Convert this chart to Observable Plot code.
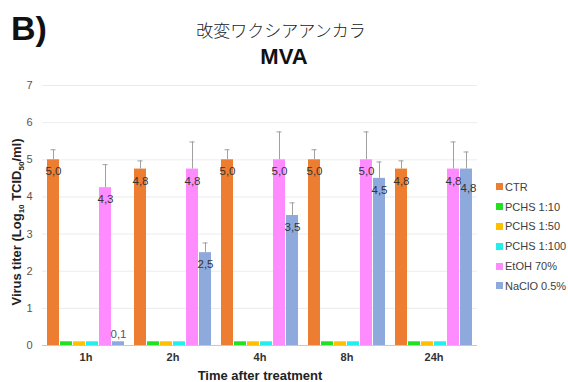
<!DOCTYPE html>
<html><head><meta charset="utf-8">
<script src="https://cdn.jsdelivr.net/npm/d3@7"></script>
<script src="https://cdn.jsdelivr.net/npm/@observablehq/plot@0.6"></script>
<style>
body{margin:0;background:#fff;font-family:"Liberation Sans",Arial,sans-serif;}
#wrap{position:relative;width:568px;height:382px;overflow:hidden;background:#fff}
#hdr{height:70px;position:relative}
#tag{position:absolute;left:11px;top:11px;font-size:34px;font-weight:bold;line-height:1;color:#111}
#jp{position:absolute;left:-3px;width:568px;top:21px;text-align:center;font-family:"Noto Sans CJK JP",sans-serif;font-weight:300;font-size:17px;line-height:1;color:#222}
#mva{position:absolute;left:0;width:568px;top:46px;text-align:center;font-size:22px;font-weight:bold;line-height:1;color:#111}
#legend{position:absolute;left:496px;top:177px;font-size:11px;color:#404040}
.row{height:19.8px;display:flex;align-items:center;white-space:nowrap}
.sw{width:7px;height:7px;margin-right:2px;flex:none}
</style></head><body>
<div id="wrap">
  <div id="hdr">
    <div id="tag">B)</div>
    <div id="jp">改変ワクシアアンカラ</div>
    <div id="mva">MVA</div>
  </div>
  <div id="chart"></div>
  <div id="legend"></div>
</div>
<script>
const times = ["1h", "2h", "4h", "8h", "24h"];
const series = ["CTR", "PCHS 1:10", "PCHS 1:50", "PCHS 1:100", "EtOH 70%", "NaClO 0.5%"];
const colors = ["#ED7D31", "#22E022", "#FFC000", "#22EEEE", "#FF8CFF", "#8EA9DB"];
const yTicks = [0, 1, 2, 3, 4, 5, 6, 7];

const ctr     = [5.0, 4.75, 5.0, 5.0, 4.75];
const pchs10  = [0.1, 0.1, 0.1, 0.1, 0.1];
const pchs50  = [0.1, 0.1, 0.1, 0.1, 0.1];
const pchs100 = [0.1, 0.1, 0.1, 0.1, 0.1];
const etoh    = [4.25, 4.75, 5.0, 5.0, 4.75];
const naclo   = [0.1, 2.5, 3.5, 4.5, 4.75];

const ctrErr   = [0.27, 0.22, 0.27, 0.27, 0.22];
const etohErr  = [0.62, 0.73, 0.75, 0.75, 0.73];
const nacloErr = [0, 0.26, 0.34, 0.44, 0.46];

const labeledSeries = ["CTR", "EtOH 70%", "NaClO 0.5%"];

const valuesBySeries = [ctr, pchs10, pchs50, pchs100, etoh, naclo];
const errBySeries = [ctrErr, null, null, null, etohErr, nacloErr];

const fmtV = v => v.toFixed(1).replace(".", ",");
const rows = [];
times.forEach((t, i) => {
  series.forEach((s, j) => {
    rows.push({time: t, series: s, value: valuesBySeries[j][i], err: errBySeries[j] ? errBySeries[j][i] : 0});
  });
});
const errRows = rows.filter(d => d.err > 0);
// labels; a label that would collide with its left neighbour's label (same rounded value, adjacent bar) is pushed down
const labelRows = rows.filter(d => labeledSeries.includes(d.series)).map(d => {
  const j = series.indexOf(d.series);
  const left = j > 0 ? rows.find(r => r.time === d.time && r.series === series[j - 1]) : null;
  const clash = left && labeledSeries.includes(left.series) && fmtV(left.value) === fmtV(d.value);
  return {...d, clash};
});
const fmt = d => fmtV(d.value);

const plot = Plot.plot({
  width: 568,
  height: 312,
  marginLeft: 40,
  marginRight: 90,
  marginTop: 15,
  marginBottom: 37,
  style: {fontFamily: "Liberation Sans, Arial, sans-serif", fontSize: "11px", color: "#404040", background: "#fff"},
  fx: {domain: times, padding: 0, label: "Time after treatment", axis: "bottom", tickSize: 0, tickPadding: 8},
  x: {domain: series, axis: null, paddingInner: 0.09, paddingOuter: 0.35},
  y: {domain: [0, 7], ticks: yTicks, tickFormat: d => String(d), grid: true, tickSize: 0, tickPadding: 10, label: null},
  color: {domain: series, range: colors},
  marks: [
    Plot.ruleY([0], {stroke: "#c8c8c8", strokeWidth: 1}),
    Plot.barY(rows, {fx: "time", x: "series", y: "value", fill: "series"}),
    Plot.ruleX(errRows, {fx: "time", x: "series", y1: "value", y2: d => d.value + d.err, stroke: "#a0a0a0", strokeWidth: 1}),
    Plot.tickY(errRows, {fx: "time", x: "series", y: d => d.value + d.err, stroke: "#a0a0a0", strokeWidth: 1, insetLeft: 3.5, insetRight: 3.5}),
    Plot.text(labelRows.filter(d => d.value >= 1 && !d.clash), {fx: "time", x: "series", y: "value", text: fmt, dy: 12, fill: "#333", fontSize: 11.5}),
    Plot.text(labelRows.filter(d => d.value >= 1 && d.clash), {fx: "time", x: "series", y: "value", text: fmt, dy: 19, dx: 2, fill: "#333", fontSize: 11.5}),
    Plot.text(labelRows.filter(d => d.value < 1), {fx: "time", x: "series", y: "value", text: fmt, dy: -7, fill: "#555", fontSize: 11.5})
  ]
});
document.getElementById("chart").appendChild(plot);

// styling of axes
const svg = d3.select(plot);
svg.selectAll('g[aria-label="fx-axis tick label"]').attr("font-weight", "bold").attr("fill", "#333");
svg.selectAll('g[aria-label="fx-axis label"]').attr("font-weight", "bold").attr("font-size", 13).attr("fill", "#222");
svg.selectAll('g[aria-label="y-grid"]').attr("stroke", "#e6e6e6").attr("stroke-opacity", 1);
svg.selectAll('g[aria-label="y-axis tick label"]').attr("fill", "#555");

// y-axis title with subscripts
const yl = svg.append("text")
  .attr("transform", "translate(16,152) rotate(-90)")
  .attr("text-anchor", "middle")
  .attr("dy", "0.35em")
  .attr("font-family", "Liberation Sans, Arial, sans-serif")
  .attr("font-weight", "bold")
  .attr("font-size", 13)
  .attr("fill", "#222");
yl.append("tspan").text("Virus titer (Log");
yl.append("tspan").text("10").attr("font-size", 8).attr("dy", "3");
yl.append("tspan").text(" TCID").attr("dy", "-3");
yl.append("tspan").text("50").attr("font-size", 8).attr("dy", "3");
yl.append("tspan").text("/ml)").attr("dy", "-3");

// legend
const lg = document.getElementById("legend");
series.forEach((s, i) => {
  const r = document.createElement("div");
  r.className = "row";
  const sw = document.createElement("span");
  sw.className = "sw";
  sw.style.background = colors[i];
  const t = document.createElement("span");
  t.textContent = s;
  r.appendChild(sw); r.appendChild(t);
  lg.appendChild(r);
});
</script>
</body></html>
